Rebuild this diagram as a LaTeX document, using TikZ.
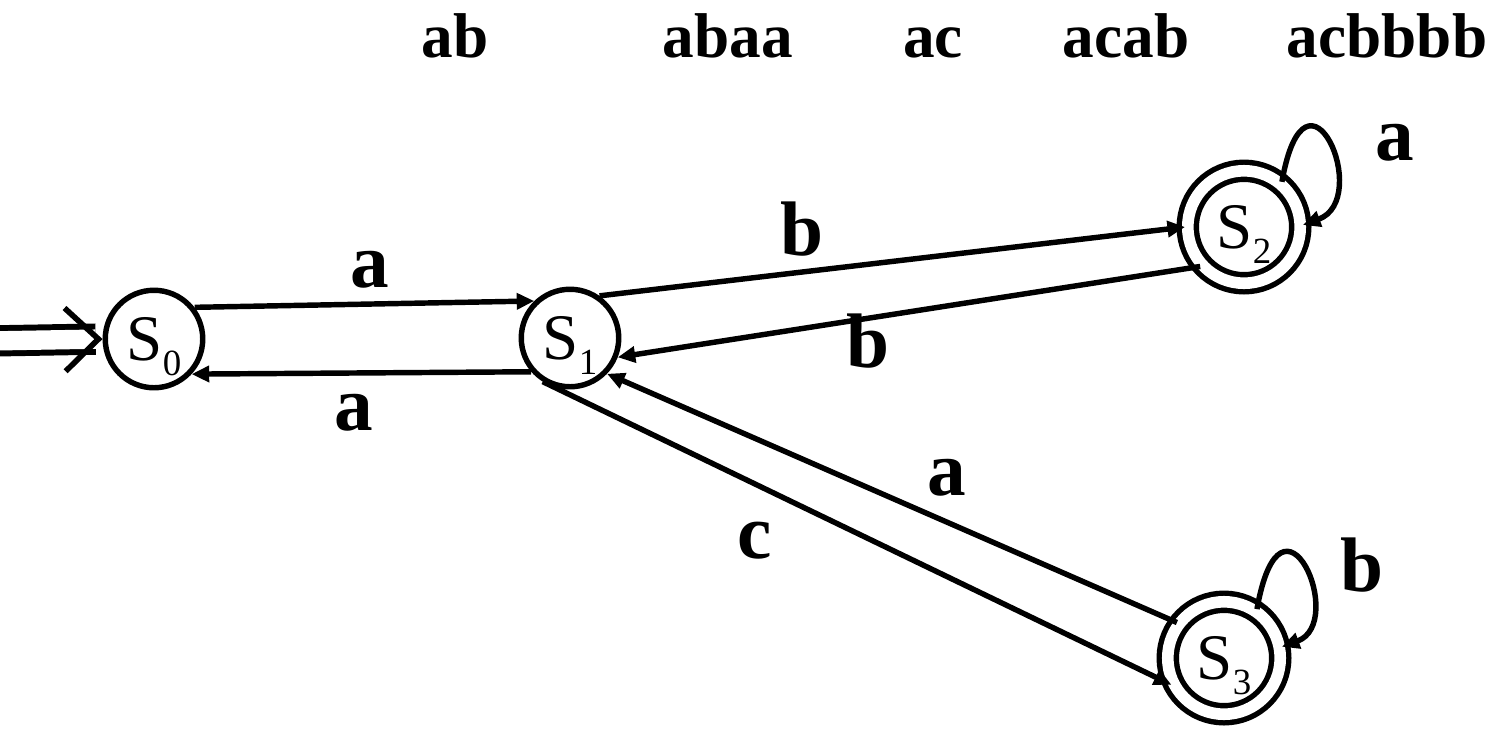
\documentclass[tikz,border=0pt]{standalone}
\usepackage{fontspec}
\setmainfont{Liberation Serif}
\usetikzlibrary{arrows.meta}
\newcommand{\stname}[1]{S\raisebox{-8.5pt}[0pt][0pt]{\fontsize{21}{21}\selectfont #1}}

\begin{document}
\begin{tikzpicture}[>={Triangle[length=10pt, width=9pt]}, x=0.02cm, y=-0.02cm,
    line width=3.1pt]
  \tikzset{
    st/.style={draw, circle, minimum size=1.95cm, inner sep=0pt,
      font=\fontsize{37}{37}\selectfont},
    acc/.style={st, double, double distance=6.6pt, minimum size=2.25cm},
    arr/.style={->},
    initarr/.style={double, line width=3.4pt, double distance=11pt,
      -{Straight Barb[length=19pt, width=36pt, line width=3.2pt]}},
    lbl/.style={anchor=base, inner sep=0pt,
      font=\fontsize{44}{44}\selectfont\bfseries},
    word/.style={lbl, font=\fontsize{36}{36}\selectfont\bfseries},
  }
  \useasboundingbox (0,0) rectangle (1494,728);
  % words
  \node[word] (w1) at (455,57)  {ab};
  \node[word] (w2) at (728,57)  {abaa};
  \node[word] (w3) at (933,57)  {ac};
  \node[word] (w4) at (1126,57) {acab};
  \node[word] (w5) at (1387,57) {acbbbb};
  % states
  \node[st]  (S0) at (154,339)  {\stname{0}};
  \node[st]  (S1) at (570,338)  {\stname{1}};
  \node[acc] (S2) at (1244,227) {\stname{2}};
  \node[acc] (S3) at (1224,658) {\stname{3}};
  \coordinate (init) at (-12,341);
  % transitions
  \draw[initarr] (init) -- (S0.west);
  \draw[arr] (S0.38) -- (S1.134);
  \draw[arr] (S1.221) -- (S0.-43);
  \draw[arr] (S1.55) -- (S2.180);
  \draw[arr] (S2.222) -- (S1.-22);
  \draw[arr] (S1.238) -- (S3.207);
  \draw[arr] (S3.143) -- (S1.-44);
  \draw[arr] (S2.50) to[out=80, in=20, out looseness=7.4, in looseness=4] (S2.2);
  \draw[arr] (S3.56) to[out=80, in=20, out looseness=8, in looseness=4] (S3.11);
  % labels
  \node[lbl] (l01) at (370,287)  {a};
  \node[lbl] (l10) at (354,430)  {a};
  \node[lbl] (l12) at (802,255)  {b};
  \node[lbl] (l21) at (868,367)  {b};
  \node[lbl] (l31) at (947,495)  {a};
  \node[lbl] (l13) at (755,558)  {c};
  \node[lbl] (l22) at (1395,160) {a};
  \node[lbl] (l33) at (1362,591) {b};
\end{tikzpicture}
\end{document}
